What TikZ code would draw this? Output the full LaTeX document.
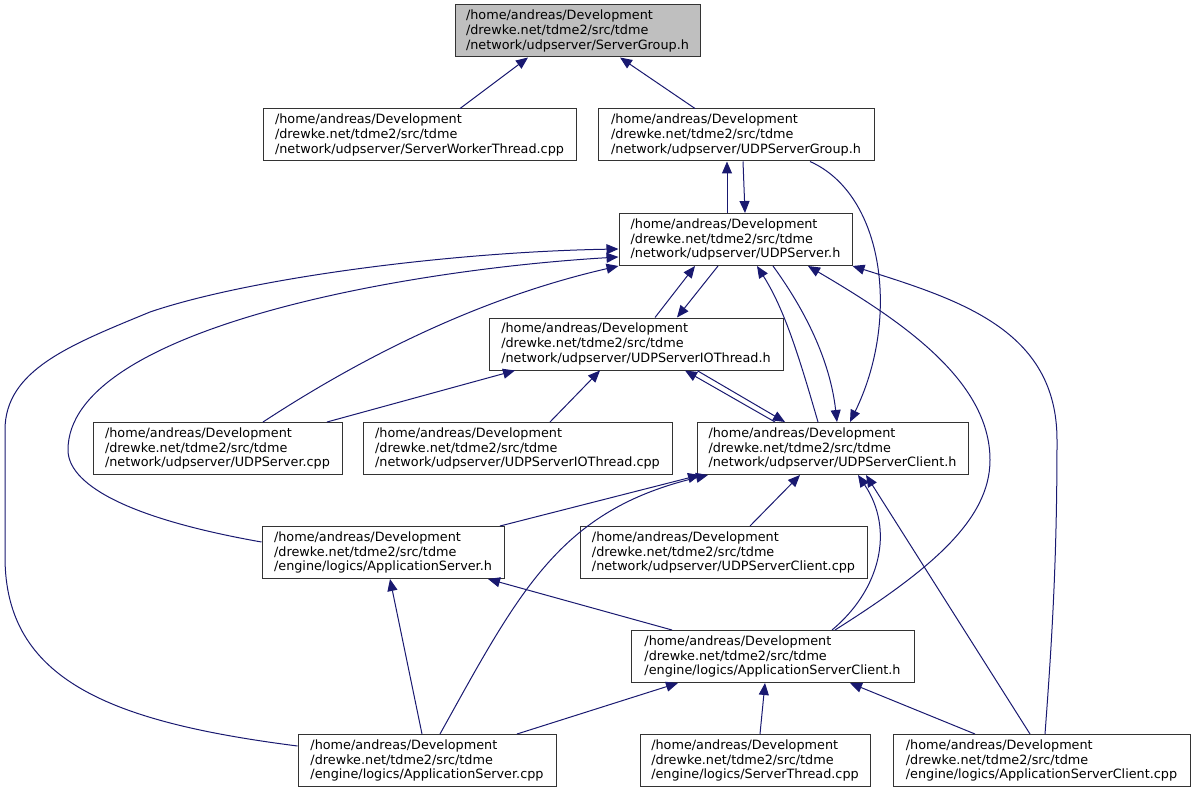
\documentclass[tikz,border=0pt]{standalone}
\usepackage{fontspec}
\setmainfont{DejaVu Sans}
\usepackage{tikz}
\usetikzlibrary{arrows.meta, calc}

\definecolor{edgeblue}{HTML}{191970}
\definecolor{rootgray}{HTML}{BFBFBF}

\begin{document}
\begin{tikzpicture}[
      x=0.75pt, y=-0.75pt,
      font=\fontsize{9.6}{11}\selectfont,
      file/.style={draw=black!80, line width=0.75pt, fill=white, minimum height=39pt,
                   inner sep=2pt, align=left},
      root/.style={file, fill=rootgray},
      wd/.style={minimum width=#1*0.75pt},
      dep/.style={-{Triangle[length=9pt, width=7.5pt]}, edgeblue, line width=0.75pt},
    ]
    \useasboundingbox (0,0) rectangle (1196,795);

    % --- row 1: the header itself ---
    \node[root, wd=245] (sg) at (577.5,31)
      {/home/andreas/Development\\/drewke.net/tdme2/src/tdme\\/network/udpserver/ServerGroup.h};

    % --- row 2 ---
    \node[file, wd=313] (swt) at (419.5,135)
      {/home/andreas/Development\\/drewke.net/tdme2/src/tdme\\/network/udpserver/ServerWorkerThread.cpp};
    \node[file, wd=276] (usg) at (736,135)
      {/home/andreas/Development\\/drewke.net/tdme2/src/tdme\\/network/udpserver/UDPServerGroup.h};

    % --- row 3 ---
    \node[file, wd=233] (us) at (735.5,239.5)
      {/home/andreas/Development\\/drewke.net/tdme2/src/tdme\\/network/udpserver/UDPServer.h};

    % --- row 4 ---
    \node[file, wd=294] (uio) at (636,344)
      {/home/andreas/Development\\/drewke.net/tdme2/src/tdme\\/network/udpserver/UDPServerIOThread.h};

    % --- row 5 ---
    \node[file, wd=249] (uscpp) at (217.5,448.5)
      {/home/andreas/Development\\/drewke.net/tdme2/src/tdme\\/network/udpserver/UDPServer.cpp};
    \node[file, wd=309] (uiocpp) at (517.5,448.5)
      {/home/andreas/Development\\/drewke.net/tdme2/src/tdme\\/network/udpserver/UDPServerIOThread.cpp};
    \node[file, wd=271] (usc) at (832.5,448.5)
      {/home/andreas/Development\\/drewke.net/tdme2/src/tdme\\/network/udpserver/UDPServerClient.h};

    % --- row 6 ---
    \node[file, wd=242] (ash) at (383,552.5)
      {/home/andreas/Development\\/drewke.net/tdme2/src/tdme\\/engine/logics/ApplicationServer.h};
    \node[file, wd=287] (usccpp) at (723.5,552.5)
      {/home/andreas/Development\\/drewke.net/tdme2/src/tdme\\/network/udpserver/UDPServerClient.cpp};

    % --- row 7 ---
    \node[file, wd=283] (asch) at (772.5,656.5)
      {/home/andreas/Development\\/drewke.net/tdme2/src/tdme\\/engine/logics/ApplicationServerClient.h};

    % --- row 8 ---
    \node[file, wd=258] (ascpp) at (427,760.5)
      {/home/andreas/Development\\/drewke.net/tdme2/src/tdme\\/engine/logics/ApplicationServer.cpp};
    \node[file, wd=230] (stcpp) at (755,760.5)
      {/home/andreas/Development\\/drewke.net/tdme2/src/tdme\\/engine/logics/ServerThread.cpp};
    \node[file, wd=297] (asccpp) at (1041.5,760.5)
      {/home/andreas/Development\\/drewke.net/tdme2/src/tdme\\/engine/logics/ApplicationServerClient.cpp};

    % --- includes of ServerGroup.h ---
    \draw[dep] (swt.north -| 460,0) -- (sg.south -| 528,0);
    \draw[dep] (usg.north -| 695,0) -- (sg.south -| 620,0);

    % --- UDPServerGroup.h / UDPServer.h ---
    \draw[dep] (us.north -| 727,0) -- (usg.south -| 727,0);
    \draw[dep] (usg.south -| 743,0) -- (us.north -| 745,0);
    \draw[dep] (usg.south -| 810,0) .. controls (885,195) and (900,320) .. (usc.north -| 850,0);

    % --- into UDPServer.h ---
    \draw[dep] (uio.north -| 655,0) -- (us.south -| 695,0);
    \draw[dep] (us.south -| 718,0) -- (uio.north -| 677,0);
    \draw[dep] (uscpp.north -| 263,0) .. controls (350,365) and (470,300) .. (us.south west);
    \draw[dep] (usc.north -| 818,0) .. controls (800,360) and (785,310) .. (us.south -| 757,0);
    \draw[dep] (us.south -| 773,0) .. controls (805,310) and (830,360) .. (usc.north -| 837,0);
    \draw[dep] (ash.west |- 0,542) .. controls (120,517) and (68,482) .. (68,450)
      .. controls (68,330) and (400,270) .. (us.west |- 0,257);
    \draw[dep] (ascpp.west |- 0,746) .. controls (110,722) and (5,680) .. (5,557) -- (5,430)
      .. controls (5,370) and (70,345) .. (150,312) .. controls (250,278) and (450,252) .. (us.west |- 0,249);
    \draw[dep] (asch.north -| 835,0) .. controls (930,570) and (990,520) .. (990,460)
      .. controls (990,380) and (900,320) .. (us.south -| 808,0);
    \draw[dep] (asccpp.north -| 1045,0) .. controls (1052,640) and (1057,560) .. (1057,440)
      .. controls (1057,330) and (960,300) .. (us.south east);

    % --- into UDPServerIOThread.h ---
    \draw[dep] (uscpp.north -| 327,0) -- (uio.south -| 515,0);
    \draw[dep] (uiocpp.north -| 550,0) -- (uio.south -| 600,0);
    \draw[dep] (usc.north -| 775,0) -- (uio.south -| 685,0);
    \draw[dep] (uio.south -| 697,0) -- (usc.north -| 785,0);

    % --- into UDPServerClient.h ---
    \draw[dep] (ash.north -| 500,0) -- (usc.south -| 700,0);
    \draw[dep] (ascpp.north -| 440,0) .. controls (520,590) and (560,510) .. (usc.south -| 708,0);
    \draw[dep] (usccpp.north -| 750,0) -- (usc.south -| 800,0);
    \draw[dep] (asch.north -| 832,0) .. controls (880,590) and (895,530) .. (usc.south -| 858,0);
    \draw[dep] (asccpp.north -| 1030,0) -- (usc.south -| 866,0);

    % --- into ApplicationServer.h / ApplicationServerClient.h ---
    \draw[dep] (ascpp.north -| 422,0) -- (ash.south -| 390,0);
    \draw[dep] (asch.north -| 672,0) -- (ash.south -| 488,0);
    \draw[dep] (ascpp.north -| 517,0) -- (asch.south -| 678,0);
    \draw[dep] (stcpp.north -| 760,0) -- (asch.south -| 765,0);
    \draw[dep] (asccpp.north -| 975,0) -- (asch.south -| 850,0);
  \end{tikzpicture}
\end{document}
